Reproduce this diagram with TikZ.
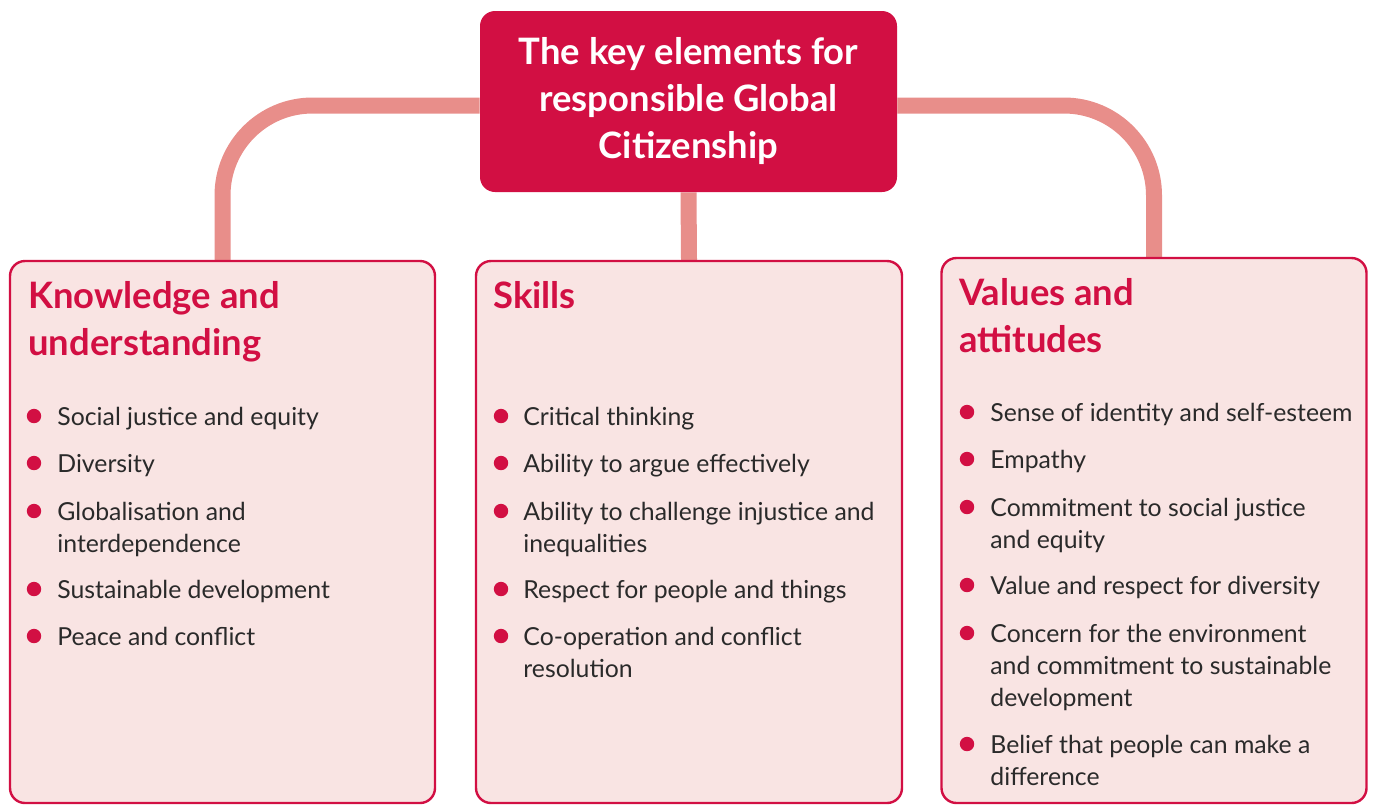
\documentclass[tikz,border=0pt]{standalone}
\usepackage{fontspec}
\setmainfont{Lato}
\usetikzlibrary{backgrounds}

\definecolor{gcred}{HTML}{D20F43}
\definecolor{gcpink}{HTML}{E88E8A}
\definecolor{gcfill}{HTML}{F9E4E3}
\definecolor{gctext}{HTML}{2A2A2A}

\begin{document}
\begin{tikzpicture}[x=0.5pt,y=-0.5pt,
  topbox/.style={fill=gcred, rounded corners=7.5pt, inner sep=0pt,
    minimum width=208.5pt, minimum height=90.5pt},
  panel/.style={draw=gcred, line width=1.2pt, fill=gcfill, rounded corners=7.5pt,
    inner sep=0pt, minimum width=212.5pt},
  link/.style={draw=gcpink, line width=8pt, rounded corners=45pt},
  heading/.style={anchor=base west, inner sep=0pt, align=left, text=gcred,
    font=\fontsize{18.2}{23.5}\selectfont\bfseries},
  dot/.style={circle, fill=gcred, inner sep=0pt, minimum size=7.2pt},
  item/.style={anchor=base west, inner sep=0pt, align=left, text=gctext,
    font=\fontsize{12.4}{16}\selectfont}]

\useasboundingbox (0,0) rectangle (1374,805) ;

\node [topbox, align=center, text=white, font=\fontsize{18.2}{23.5}\selectfont\bfseries]
  (top) at (688.5,101.5) {The key elements for\\responsible Global\\Citizenship} ;

\node [panel, minimum height=271pt] (know) at (222.5,532) {} ;
\node [panel, minimum height=271pt, minimum width=213pt] (skill) at (689,532) {} ;
\node [panel, minimum height=272.5pt] (vals) at (1154,530.5) {} ;

\begin{scope}[on background layer]
\draw [link] ([yshift=-2pt]top.west) -| (know.north) ;
\draw [link] ([yshift=-2pt]top.east) -| (vals.north) ;
\draw [link, rounded corners=0pt] (top.south) -- (skill.north) ;
\end{scope}

% knowledge and understanding (multi-line texts sit on their last line)
\node [heading] (knowhead) at (28,355) {Knowledge and\\understanding} ;

\node [dot] (kb1) at (34,416) {} ;
\node [dot] (kb2) at (34,463) {} ;
\node [dot] (kb3) at (34,511) {} ;
\node [dot] (kb4) at (34,589) {} ;
\node [dot] (kb5) at (34,636) {} ;

\node [item] (kt1) at (57,425) {Social justice and equity} ;
\node [item] (kt2) at (57,472) {Diversity} ;
\node [item] (kt3) at (57,552) {Globalisation and\\interdependence} ;
\node [item] (kt4) at (57,598) {Sustainable development} ;
\node [item] (kt5) at (57,645) {Peace and conflict} ;

% skills
\node [heading] (skillhead) at (493,308) {Skills} ;

\node [dot] (sb1) at (501,416) {} ;
\node [dot] (sb2) at (501,463) {} ;
\node [dot] (sb3) at (501,511) {} ;
\node [dot] (sb4) at (501,589) {} ;
\node [dot] (sb5) at (501,636) {} ;

\node [item] (st1) at (523,425) {Critical thinking} ;
\node [item] (st2) at (523,472) {Ability to argue effectively} ;
\node [item] (st3) at (523,552) {Ability to challenge injustice and\\inequalities} ;
\node [item] (st4) at (523,598) {Respect for people and things} ;
\node [item] (st5) at (523,677) {Co-operation and conflict\\resolution} ;

% values and attitudes
\node [heading] (valshead) at (959,352) {Values and\\attitudes} ;

\node [dot] (vb1) at (967,412) {} ;
\node [dot] (vb2) at (967,459) {} ;
\node [dot] (vb3) at (967,507) {} ;
\node [dot] (vb4) at (967,585) {} ;
\node [dot] (vb5) at (967,633) {} ;
\node [dot] (vb6) at (967,744) {} ;

\node [item] (vt1) at (990,421) {Sense of identity and self-esteem} ;
\node [item] (vt2) at (990,468) {Empathy} ;
\node [item] (vt3) at (990,548) {Commitment to social justice\\and equity} ;
\node [item] (vt4) at (990,594) {Value and respect for diversity} ;
\node [item] (vt5) at (990,706) {Concern for the environment\\and commitment to sustainable\\development} ;
\node [item] (vt6) at (990,785) {Belief that people can make a\\difference} ;

\end{tikzpicture}
\end{document}
